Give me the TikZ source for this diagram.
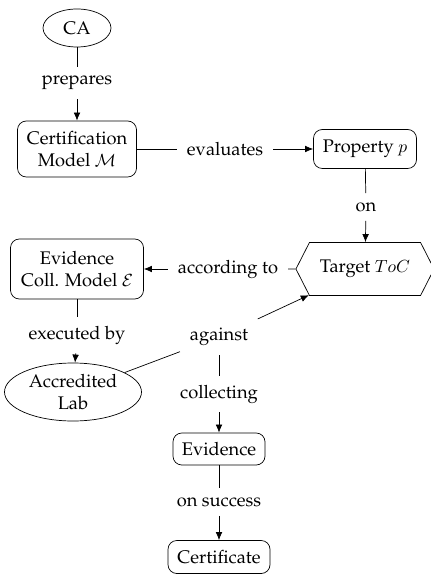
\documentclass[tikz,border=0pt]{standalone}
\usepackage[T1]{fontenc}
\usepackage{palatino}
\usepackage{amsmath,amssymb}
\usepackage{tikz}
\usetikzlibrary{arrows.meta,shapes.geometric,shapes.symbols}
\tikzset{>={Latex[length=4.6pt,width=3.8pt]}}
\tikzset{
	every node/.style={font=\fontsize{10.4}{12.4}\selectfont},
	box/.style={draw, rounded corners=5pt, align=center, inner xsep=5pt, inner ysep=4pt},
	oval/.style={draw, ellipse, align=center, inner sep=1pt},
	lbl/.style={inner xsep=5.5pt, inner ysep=5pt},
	target/.style={draw, signal, signal to=east and west, signal pointer angle=126, inner xsep=6pt, inner ysep=4pt}
}

\begin{document}
\begin{tikzpicture}
	\useasboundingbox (0,0) rectangle (8.6,-11.5);

	\node[oval, minimum width=1.36cm, minimum height=0.76cm] (ca) at (1.54,-0.56) {CA};
	\node[lbl] (prep) at (1.54,-1.66) {prepares};
	\node[box, minimum width=2.38cm, minimum height=1.12cm] (cm) at (1.54,-2.98) {Certification\\Model $\mathcal{M}$};
	\node[lbl] (eval) at (4.5,-2.98) {evaluates};
	\node[box, minimum width=2.06cm, minimum height=0.78cm] (prop) at (7.3,-2.98) {Property $p$};
	\node[lbl] (on) at (7.32,-4.14) {on};
	\node[target, minimum width=2.56cm, minimum height=1.06cm] (toc) at (7.3,-5.38) {Target $ToC$};
	\node[lbl] (acc) at (4.56,-5.38) {according to};
	\node[box, minimum width=2.66cm, minimum height=1.2cm] (ecm) at (1.54,-5.38) {Evidence\\Coll. Model $\mathcal{E}$};
	\node[lbl] (exe) at (1.54,-6.7) {executed by};
	\node[oval, minimum width=2.74cm, minimum height=1.16cm] (lab) at (1.46,-7.84) {Accredited\\Lab};
	\node[lbl] (agn) at (4.38,-6.74) {against};
	\node[lbl] (coll) at (4.38,-7.88) {collecting};
	\node[box, minimum width=1.84cm, minimum height=0.64cm] (evd) at (4.38,-8.98) {Evidence};
	\node[lbl] (succ) at (4.38,-10.04) {on success};
	\node[box, minimum width=2.04cm, minimum height=0.66cm] (cert) at (4.38,-11.14) {Certificate};

	\draw (ca) -- (prep);
	\draw[->] (prep) -- (cm);
	\draw (cm) -- (eval);
	\draw[->] (eval) -- (prop);
	\draw (prop) -- (on);
	\draw[->] (on) -- (toc);
	\draw (toc) -- (acc);
	\draw[->] (acc) -- (ecm);
	\draw (ecm) -- (exe);
	\draw[->] (exe) -- (lab);
	\draw (lab) -- (agn);
	\draw[->] (agn) -- (toc);
	\draw (agn) -- (coll);
	\draw[->] (coll) -- (evd);
	\draw (evd) -- (succ);
	\draw[->] (succ) -- (cert);
\end{tikzpicture}
\end{document}
